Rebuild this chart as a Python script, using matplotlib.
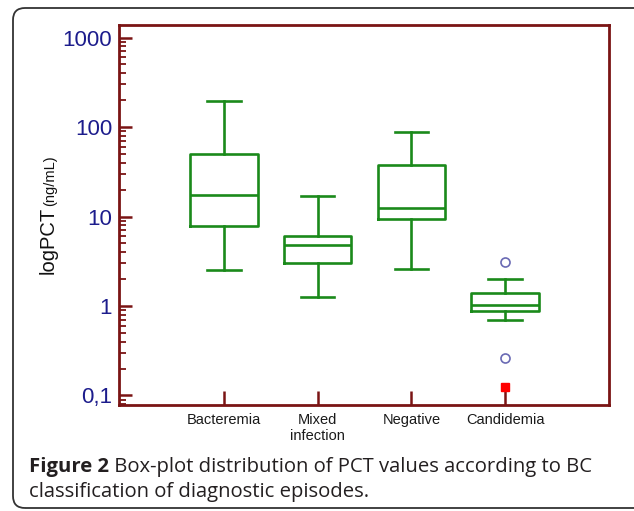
import numpy as np
import matplotlib
matplotlib.use("Agg")
import matplotlib.pyplot as plt
from matplotlib.patches import FancyBboxPatch
from matplotlib.ticker import FixedLocator, LogLocator, NullFormatter

# Valeurs (ng/mL)
categories = ["Bacteremia", "Mixed\ninfection", "Negative", "Candidemia"]
whis_low = [2.5, 1.25, 2.6, 0.69]
q1 = [7.8, 3.0, 9.4, 0.89]
medians = [17.2, 4.8, 12.6, 1.03]
q3 = [50, 6.1, 38, 1.38]
whis_high = [195, 17, 88, 2.0]
outliers = [[], [], [], [3.1, 0.26]]
far_outliers = [[], [], [], [0.125]]

y_ticks = [0.1, 1, 10, 100, 1000]
y_tick_labels = ["0,1", "1", "10", "100", "1000"]

green = "#1a8a1a"
maroon = "#7a1414"
navy = "#1c1c8c"

plt.rcParams["font.family"] = ["Liberation Sans", "DejaVu Sans"]

fig = plt.figure(figsize=(6.34, 5.11), dpi=100)
ax = fig.add_axes([119 / 634, 1 - 405 / 511, 490 / 634, 380 / 511])

stats = []
for i, name in enumerate(categories):
    stats.append({
        "label": name, "whislo": whis_low[i], "q1": q1[i], "med": medians[i],
        "q3": q3[i], "whishi": whis_high[i], "fliers": [],
    })

pos = np.arange(1, len(categories) + 1)
line = dict(color=green, linewidth=1.9)
ax.bxp(stats, positions=pos, widths=0.72, showfliers=False,
       boxprops=line, medianprops=line, whiskerprops=line,
       capprops=line, capwidths=0.36)

for i, p in enumerate(pos):
    if outliers[i]:
        ax.plot([p] * len(outliers[i]), outliers[i], "o", mfc="white",
                mec="#6a6ab4", mew=1.2, ms=6.5, zorder=3)
    if far_outliers[i]:
        ax.plot([p] * len(far_outliers[i]), far_outliers[i], "s", color="red",
                ms=5.5, zorder=3)

ax.set_yscale("log")
ax.set_ylim(0.0783, 1380)
ax.set_xlim(-0.117, 5.106)

ax.yaxis.set_major_locator(FixedLocator(y_ticks))
ax.set_yticklabels(y_tick_labels, color=navy, fontsize=16)
ax.yaxis.set_minor_locator(LogLocator(base=10, subs=np.arange(2, 10)))
ax.yaxis.set_minor_formatter(NullFormatter())
ax.tick_params(axis="y", which="major", direction="in", length=9, width=1.8,
               color=maroon, pad=5)
ax.tick_params(axis="y", which="minor", direction="in", length=5, width=1.3,
               color=maroon)

ax.set_xticks(pos)
ax.set_xticklabels(categories, fontsize=10.5, color="#1a1a1a", linespacing=1.15)
ax.tick_params(axis="x", direction="in", length=10, width=1.8, color=maroon, pad=6)

for s in ax.spines.values():
    s.set_color(maroon)
    s.set_linewidth(2.0)

# Titre de l'axe y : "logPCT" + unité en plus petit, sur la même ligne de base
fig.text(54 / 634, 1 - 274 / 511, "logPCT", rotation=90, rotation_mode="anchor",
         ha="left", va="baseline", fontsize=14.5, color="#111111")
fig.text(54 / 634, 1 - 206 / 511, "(ng/mL)", rotation=90, rotation_mode="anchor",
         ha="left", va="baseline", fontsize=10.5, color="#111111")

# Légende de la figure
cap_font = ["Open Sans", "DejaVu Sans"]
cap_color = "#231f20"
t1 = fig.text(29 / 634, 1 - 472 / 511, "Figure 2", fontweight="bold", fontsize=14.6,
              family=cap_font, color=cap_color, va="baseline")
fig.canvas.draw()
bb = t1.get_window_extent()
fig.text(bb.x1 / fig.bbox.width, 1 - 472 / 511,
         " Box-plot distribution of PCT values according to BC", fontsize=14.6,
         family=cap_font, color=cap_color, va="baseline")
fig.text(29 / 634, 1 - 497 / 511, "classification of diagnostic episodes.", fontsize=14.6,
         family=cap_font, color=cap_color, va="baseline")

# Cadre arrondi autour de la figure
frame = FancyBboxPatch((0.13, 0.03), 6.5, 5.0, boxstyle="round,pad=0,rounding_size=0.12",
                       transform=fig.dpi_scale_trans, fill=False, edgecolor="#333333",
                       linewidth=1.3, clip_on=False)
fig.add_artist(frame)

fig.savefig("out.png", dpi=100)
